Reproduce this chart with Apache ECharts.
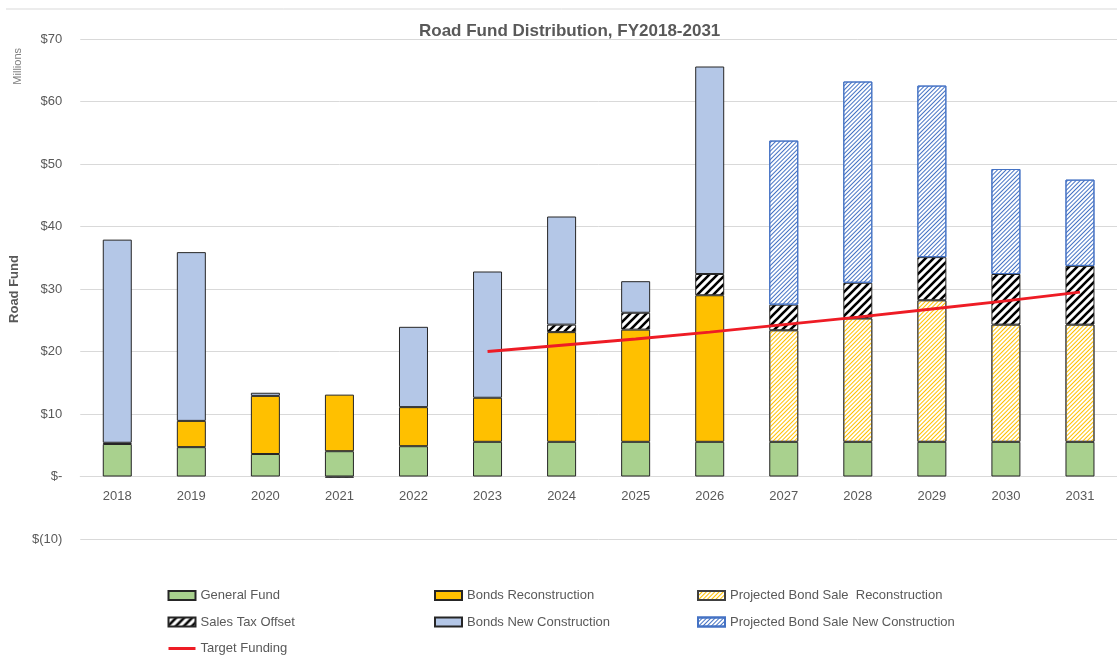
<!DOCTYPE html>
<html>
<head>
<meta charset="utf-8">
<title>Road Fund Distribution</title>
<script src="https://cdn.jsdelivr.net/npm/echarts@6/dist/echarts.min.js"></script>
<style>
  html, body { margin: 0; padding: 0; background: #fff; }
  #chart { width: 1117px; height: 656px; }
</style>
</head>
<body>
<div id="chart"></div>
<script>
// data, $ millions
var years = ['2018', '2019', '2020', '2021', '2022', '2023', '2024', '2025', '2026', '2027', '2028', '2029', '2030', '2031'];
var generalFund = [5.2, 4.7, 3.6, 4.05, 4.85, 5.55, 5.55, 5.55, 5.55, 5.55, 5.55, 5.55, 5.55, 5.55];
var bondsRecon = [null, 4.2, 9.3, 9.05, 6.25, 7.05, 17.55, 17.95, 23.45, null, null, null, null, null];
var projRecon = [null, null, null, null, null, null, null, null, null, 17.85, 19.75, 22.65, 18.75, 18.75];
var salesTax = [0.2, null, null, -0.2, null, null, 1.2, 2.7, 3.4, 4.1, 5.7, 6.9, 8.1, 9.4];
var bondsNew = [32.5, 27.0, 0.5, null, 12.85, 20.2, 17.3, 5.05, 33.2, null, null, null, null, null];
var projNew = [null, null, null, null, null, null, null, null, null, 26.25, 32.2, 27.45, 16.8, 13.8];
var targetFunding = [null, null, null, null, null, 20.0, 21.0, 22.0, 23.1, 24.3, 25.5, 26.8, 28.1, 29.5];
var yTicks = { '70': '$70', '60': '$60', '50': '$50', '40': '$40', '30': '$30', '20': '$20', '10': '$10', '0': '$-', '-10': '$(10)' };

var FONT = '"Liberation Sans", Arial, sans-serif';
var GREY = '#595959';

// thick black "/" hatch for sales tax
function hatch(color, size, width) {
  var c = document.createElement('canvas');
  c.width = size;
  c.height = size;
  var ctx = c.getContext('2d');
  ctx.fillStyle = '#fff';
  ctx.fillRect(0, 0, size, size);
  ctx.strokeStyle = color;
  ctx.lineWidth = width;
  ctx.beginPath();
  ctx.moveTo(0, size); ctx.lineTo(size, 0);
  ctx.moveTo(-size / 2, size / 2); ctx.lineTo(size / 2, -size / 2);
  ctx.moveTo(size / 2, size * 1.5); ctx.lineTo(size * 1.5, size / 2);
  ctx.stroke();
  return { image: c, repeat: 'repeat' };
}

// thin stripes for the projected bond sales
function stripes(color) {
  return {
    symbol: 'rect',
    symbolSize: 1,
    dashArrayX: [1, 0],
    dashArrayY: [1, 2],
    rotation: -Math.PI / 4,
    color: color
  };
}

var chart = echarts.init(document.getElementById('chart'));

function barSeries(name, data, color, border, decal) {
  var s = {
    name: name,
    type: 'bar',
    stack: 'total',
    barWidth: 29,
    data: data,
    itemStyle: { color: color, borderColor: border || '#262626', borderWidth: 1 },
    emphasis: { disabled: true }
  };
  if (decal) s.itemStyle.decal = decal;
  return s;
}

var legendText = { color: GREY, fontSize: 13, fontFamily: FONT };
function legendCol(left, items) {
  return {
    orient: 'vertical', left: left, top: 589, padding: 0, height: 70,
    itemGap: 13.5, itemWidth: 27, itemHeight: 9,
    textStyle: legendText, selectedMode: false, data: items
  };
}

var option = {
  animation: false,
  title: {
    text: 'Road Fund Distribution, FY2018-2031',
    left: 414,
    top: 18,
    textStyle: { color: GREY, fontSize: 17, fontWeight: 'bold', fontFamily: FONT }
  },
  grid: { left: 79, right: -7, top: 39, bottom: 117 },
  legend: [
    legendCol(167, [
      { name: 'General Fund', icon: 'rect' },
      { name: 'Sales Tax Offset', icon: 'rect' },
      { name: 'Target Funding', itemStyle: { opacity: 0 }, lineStyle: { width: 3 } }
    ]),
    legendCol(434, [
      { name: 'Bonds Reconstruction', icon: 'rect' },
      { name: 'Bonds New Construction', icon: 'rect' }
    ]),
    legendCol(697, [
      { name: 'Projected Bond Sale  Reconstruction', icon: 'rect' },
      { name: 'Projected Bond Sale New Construction', icon: 'rect' }
    ])
  ],
  xAxis: {
    type: 'category',
    data: years,
    offset: -62.5,
    axisLine: { onZero: false, lineStyle: { color: '#d9d9d9' } },
    axisTick: { show: false },
    axisLabel: { color: GREY, fontSize: 13, fontFamily: FONT, margin: 13 }
  },
  yAxis: {
    type: 'value',
    min: -10,
    max: 70,
    interval: 10,
    name: 'Road Fund',
    nameLocation: 'middle',
    nameRotate: 90,
    nameGap: 56,
    nameTextStyle: { color: GREY, fontSize: 13, fontWeight: 'bold', fontFamily: FONT },
    axisLine: { show: false },
    axisTick: { show: false },
    axisLabel: {
      color: GREY, fontSize: 13, fontFamily: FONT, margin: 18,
      formatter: function (v) { return yTicks[String(v)]; }
    },
    splitLine: { lineStyle: { color: '#d9d9d9' } }
  },
  graphic: [
    {
      type: 'text', left: 12, top: 48, rotation: Math.PI / 2,
      style: { text: 'Millions', fill: '#7f7f7f', font: '11px ' + FONT }
    },
    {
      type: 'line', shape: { x1: 6, y1: 9, x2: 1117, y2: 9 },
      style: { stroke: '#d9d9d9', lineWidth: 1 }
    }
  ],
  series: [
    barSeries('General Fund', generalFund, '#a9d18e'),
    barSeries('Bonds Reconstruction', bondsRecon, '#ffc000'),
    barSeries('Projected Bond Sale  Reconstruction', projRecon, '#ffffff', '#404040', stripes('#ffc000')),
    barSeries('Sales Tax Offset', salesTax, hatch('#000000', 8, 2.6), '#262626'),
    barSeries('Bonds New Construction', bondsNew, '#b4c7e7'),
    barSeries('Projected Bond Sale New Construction', projNew, '#ffffff', '#4472c4', stripes('#4472c4')),
    {
      name: 'Target Funding',
      type: 'line',
      data: targetFunding,
      symbol: 'none',
      lineStyle: { color: '#ee1c25', width: 3 },
      itemStyle: { color: '#ee1c25' },
      z: 5
    }
  ]
};

chart.setOption(option);
</script>
</body>
</html>
